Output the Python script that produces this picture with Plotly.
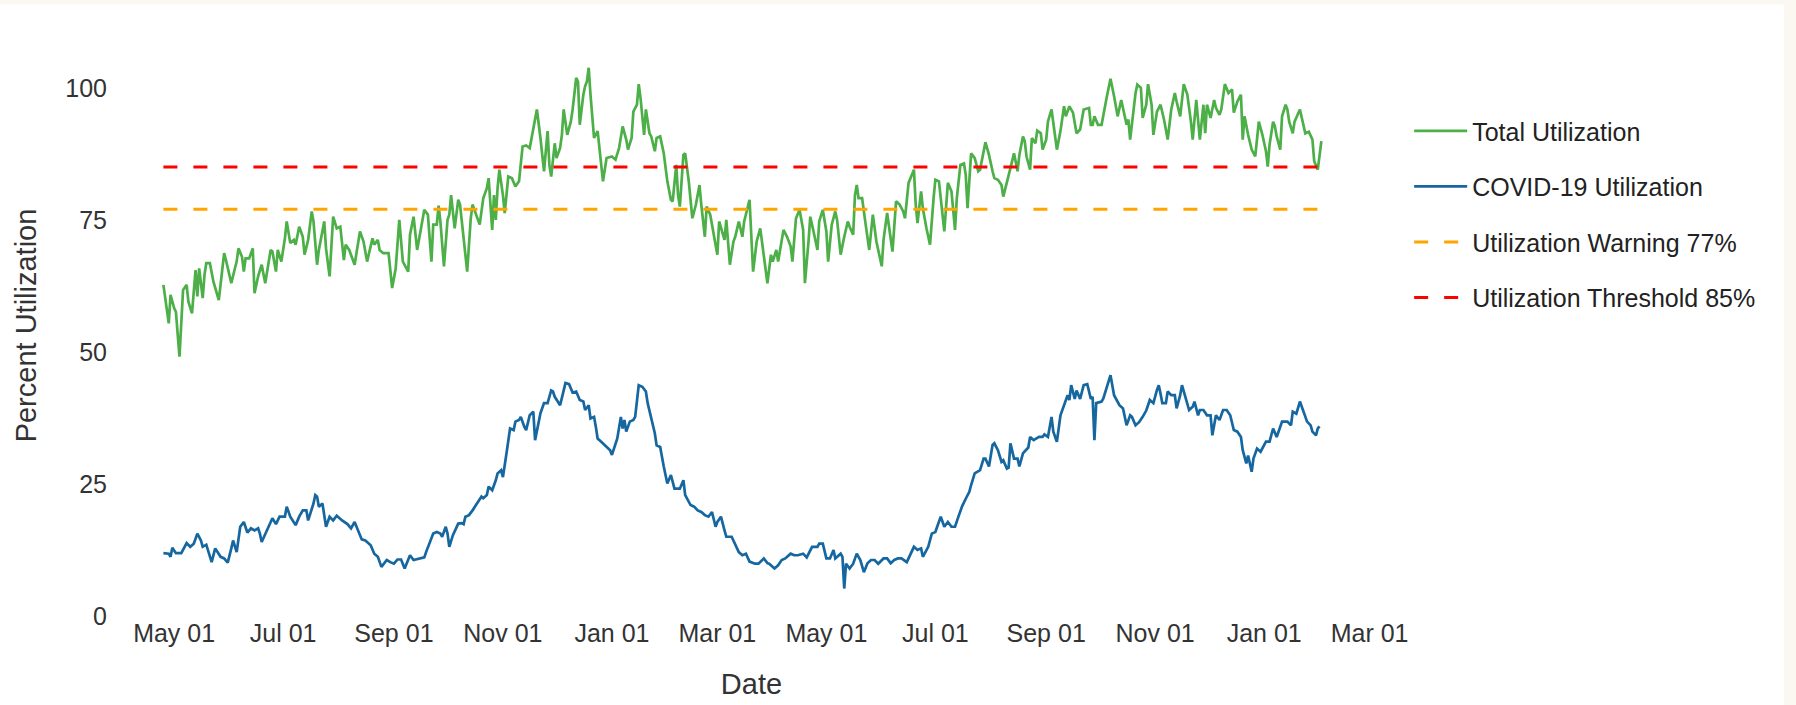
import pandas as pd
import plotly.graph_objects as go

# ---- data (day offsets are days since 2020-05-01) ----
START_DATE = "2020-05-01"

total_days = [
    -6, -3, -2, 0, 1, 3, 5, 7, 8, 10,
    12, 13, 14, 16, 17, 18, 20, 22, 25, 28,
    29, 32, 34, 35, 36, 38, 39, 40, 42, 44,
    45, 47, 49, 51, 54, 55, 57, 58, 60, 62,
    63, 65, 67, 68, 70, 72, 73, 75, 77, 78,
    80, 81, 84, 85, 87, 88, 89, 91, 93, 95,
    96, 98, 101, 104, 106, 108, 111, 112, 114, 115,
    117, 120, 122, 124, 126, 128, 131, 132, 134, 136,
    138, 140, 142, 144, 145, 147, 148, 149, 151, 153,
    154, 155, 157, 159, 160, 164, 166, 167, 169, 171,
    173, 175, 176, 178, 179, 180, 181, 182, 184, 185,
    187, 189, 191, 193, 195, 197, 199, 201, 203, 205,
    207, 209, 210, 211, 213, 214, 216, 217, 218, 220,
    222, 223, 225, 226, 227, 229, 230, 231, 232, 233,
    235, 237, 239, 240, 242, 245, 247, 249, 251, 253,
    254, 256, 257, 259, 260, 261, 263, 264, 266, 267,
    269, 270, 272, 274, 276, 278, 279, 281, 282, 283,
    285, 286, 288, 290, 292, 294, 295, 297, 298, 300,
    302, 304, 305, 306, 308, 309, 311, 313, 314, 316,
    318, 319, 322, 324, 326, 328, 330, 332, 334, 335,
    337, 338, 341, 343, 345, 346, 348, 350, 352, 353,
    355, 356, 358, 360, 361, 363, 365, 366, 368, 370,
    371, 373, 375, 377, 378, 380, 381, 382, 383, 385,
    387, 389, 391, 393, 396, 397, 399, 402, 404, 406,
    408, 409, 411, 412, 414, 415, 416, 418, 419, 421,
    423, 425, 426, 428, 429, 431, 433, 435, 437, 438,
    440, 442, 443, 444, 446, 448, 450, 451, 454, 456,
    458, 459, 461, 463, 464, 466, 468, 470, 472, 473,
    475, 476, 477, 479, 480, 482, 483, 485, 486, 488,
    489, 491, 492, 494, 496, 498, 499, 501, 503, 505,
    507, 509, 512, 513, 514, 515, 517, 519, 522, 524,
    526, 528, 530, 532, 533, 534, 535, 538, 539, 541,
    542, 544, 545, 547, 548, 550, 552, 554, 556, 558,
    560, 561, 563, 565, 567, 569, 570, 572, 574, 576,
    577, 578, 580, 582, 583, 585, 586, 588, 590, 592,
    593, 595, 597, 598, 599, 601, 603, 605, 607, 609,
    611, 612, 613, 615, 616, 617, 619, 620, 622, 623,
    624, 626, 627, 630, 632, 633, 635, 637, 638, 640,
    642,
]
total_pct = [
    62.7, 55.4, 60.8, 58.3, 57.6, 49.1, 61.7, 62.7, 59.5, 57.3,
    65.5, 60.5, 65.8, 60.2, 64.6, 66.8, 66.8, 63.3, 59.8, 68.7,
    67.4, 63.0, 65.8, 67.1, 69.6, 68.0, 65.2, 67.7, 67.7, 69.6,
    61.1, 64.3, 66.5, 63.0, 69.3, 69.0, 65.2, 69.3, 67.1, 71.5,
    74.7, 70.6, 71.2, 70.3, 73.7, 71.8, 68.4, 71.2, 76.6, 74.7,
    66.5, 69.3, 74.7, 69.6, 64.3, 70.9, 75.6, 73.4, 73.7, 67.4,
    70.3, 69.3, 66.5, 72.8, 70.9, 67.1, 71.5, 70.3, 71.2, 69.3,
    68.7, 68.7, 62.1, 65.8, 75.0, 67.1, 65.2, 72.2, 75.6, 69.3,
    73.4, 76.9, 76.0, 67.1, 74.1, 74.1, 77.7, 74.7, 66.2, 75.0,
    76.0, 79.7, 73.4, 78.8, 77.9, 65.2, 75.3, 77.9, 76.0, 74.1,
    79.1, 81.0, 82.9, 73.1, 79.7, 75.0, 81.0, 84.5, 79.7, 76.3,
    83.2, 82.9, 81.3, 82.3, 88.9, 89.1, 88.6, 92.1, 95.9, 90.5,
    84.2, 91.8, 85.4, 83.2, 89.5, 86.7, 88.6, 91.1, 95.9, 91.1,
    93.6, 95.9, 101.9, 101.2, 93.0, 98.7, 100.3, 101.2, 103.8, 98.7,
    90.5, 91.8, 85.4, 82.3, 86.7, 87.0, 86.4, 88.6, 92.7, 90.2,
    88.3, 90.5, 95.5, 96.8, 100.7, 98.1, 91.1, 95.9, 91.4, 90.8,
    88.0, 90.5, 90.8, 87.6, 82.3, 78.8, 78.5, 85.4, 79.7, 77.5,
    87.3, 87.6, 82.3, 75.3, 77.9, 81.6, 77.9, 71.8, 77.5, 76.0,
    72.2, 68.4, 74.7, 73.4, 71.2, 75.0, 66.5, 70.9, 71.8, 74.7,
    71.8, 74.7, 78.8, 65.2, 70.9, 73.4, 68.4, 63.0, 68.4, 67.1,
    69.3, 67.1, 73.1, 71.8, 70.0, 67.1, 75.3, 76.9, 73.1, 63.0,
    70.9, 75.6, 72.5, 69.3, 74.7, 76.9, 72.8, 67.1, 74.1, 76.6,
    75.0, 68.4, 71.8, 74.7, 73.7, 72.2, 79.7, 81.6, 79.1, 79.1,
    74.1, 69.3, 76.0, 70.9, 66.2, 71.2, 76.3, 69.0, 78.5, 77.9,
    76.6, 75.3, 82.0, 82.9, 84.5, 77.9, 74.4, 80.4, 77.2, 73.4,
    70.3, 79.1, 82.6, 82.3, 78.8, 72.8, 82.0, 80.4, 73.1, 79.1,
    85.4, 85.7, 83.5, 77.2, 87.6, 86.7, 84.2, 84.5, 89.7, 87.3,
    84.2, 82.9, 82.6, 81.6, 79.4, 81.9, 84.8, 87.6, 84.2, 87.3,
    90.8, 89.9, 87.0, 84.5, 90.5, 89.5, 91.9, 91.4, 88.3, 90.2,
    93.6, 95.9, 93.6, 88.3, 91.8, 96.5, 94.6, 96.5, 95.3, 91.4,
    92.1, 95.9, 96.2, 93.0, 93.0, 94.6, 93.0, 93.0, 98.4, 101.7,
    98.4, 94.6, 97.7, 94.3, 93.0, 94.0, 90.2, 99.0, 100.6, 100.0,
    94.3, 96.8, 100.7, 96.8, 91.1, 95.5, 96.8, 93.9, 90.2, 95.9,
    99.0, 97.4, 94.6, 100.7, 98.7, 93.6, 90.2, 97.7, 90.2, 96.8,
    91.4, 96.8, 94.3, 97.7, 96.2, 94.9, 95.9, 100.7, 99.0, 99.7,
    95.3, 97.4, 98.7, 90.2, 94.6, 91.1, 88.3, 87.0, 93.6, 91.1,
    88.0, 85.1, 89.2, 93.6, 92.7, 90.8, 88.3, 94.6, 96.8, 95.9,
    93.6, 91.4, 93.6, 95.9, 93.0, 91.4, 91.7, 90.2, 86.1, 84.5,
    89.9,
]

covid_days = [
    -6, -3, -2, -1, 1, 4, 7, 9, 11, 13,
    15, 16, 18, 21, 23, 26, 28, 30, 32, 33,
    35, 37, 39, 41, 43, 45, 47, 48, 49, 51,
    53, 55, 57, 59, 62, 63, 65, 68, 70, 72,
    74, 75, 78, 79, 80, 81, 83, 85, 87, 89,
    91, 94, 97, 99, 101, 103, 105, 107, 110, 112,
    114, 116, 119, 121, 123, 125, 127, 129, 132, 134,
    137, 140, 141, 143, 145, 147, 149, 150, 152, 153,
    154, 156, 158, 159, 161, 162, 163, 165, 167, 169,
    170, 172, 173, 175, 176, 178, 180, 181, 183, 184,
    186, 188, 190, 191, 193, 194, 196, 197, 199, 201,
    202, 203, 205, 207, 209, 211, 212, 213, 214, 216,
    219, 221, 223, 225, 227, 229, 230, 232, 233, 235,
    236, 237, 239, 241, 244, 245, 247, 248, 250, 251,
    252, 253, 255, 257, 258, 260, 262, 264, 265, 267,
    269, 270, 272, 274, 276, 278, 280, 282, 283, 285,
    286, 289, 291, 293, 295, 297, 299, 301, 303, 304,
    306, 308, 309, 312, 314, 316, 318, 320, 322, 325,
    327, 330, 332, 333, 336, 338, 340, 342, 345, 347,
    349, 352, 354, 355, 357, 360, 361, 363, 365, 367,
    369, 370, 373, 374, 375, 376, 378, 380, 382, 384,
    386, 388, 390, 392, 394, 397, 399, 401, 403, 405,
    407, 410, 412, 414, 416, 418, 419, 422, 424, 426,
    427, 429, 431, 433, 435, 437, 439, 441, 443, 445,
    446, 448, 451, 453, 454, 456, 458, 459, 461, 463,
    464, 466, 467, 468, 470, 472, 473, 475, 478, 479,
    481, 484, 486, 487, 489, 491, 492, 494, 496, 498,
    500, 501, 502, 504, 505, 507, 509, 511, 513, 514,
    515, 516, 519, 520, 522, 524, 526, 528, 529, 531,
    533, 535, 536, 538, 540, 542, 544, 546, 548, 550,
    551, 552, 553, 555, 556, 558, 560, 561, 563, 564,
    566, 568, 570, 571, 573, 574, 576, 578, 580, 581,
    583, 585, 587, 589, 591, 593, 595, 597, 598, 600,
    601, 603, 604, 606, 608, 611, 613, 615, 617, 620,
    623, 625, 626, 628, 630, 632, 634, 636, 637, 639,
    640, 641,
]
covid_pct = [
    11.9, 11.8, 11.2, 12.9, 11.9, 11.9, 13.8, 13.1, 13.7, 15.6,
    14.3, 13.1, 13.5, 10.2, 12.8, 11.2, 10.9, 10.1, 12.8, 14.3,
    12.1, 16.9, 17.8, 15.8, 16.6, 16.2, 16.6, 15.6, 14.0, 15.6,
    17.2, 18.5, 17.4, 18.8, 18.8, 20.7, 18.8, 17.2, 18.8, 20.0,
    20.0, 18.1, 21.3, 22.9, 22.6, 20.7, 21.3, 16.9, 18.8, 18.1,
    19.0, 18.1, 17.4, 16.6, 17.8, 16.2, 14.5, 14.3, 13.4, 11.8,
    11.2, 9.3, 10.6, 10.2, 9.9, 10.7, 10.7, 9.0, 11.5, 10.6,
    10.9, 11.1, 12.1, 14.0, 15.6, 15.9, 15.6, 15.0, 16.9, 15.6,
    13.1, 15.3, 16.9, 17.5, 17.6, 17.4, 18.8, 19.1, 20.0, 21.0,
    21.6, 22.6, 22.3, 22.9, 24.5, 23.8, 25.7, 27.0, 27.6, 26.3,
    30.8, 35.5, 35.2, 36.8, 37.1, 37.7, 35.8, 35.2, 38.0, 38.7,
    33.3, 35.2, 38.4, 40.3, 40.3, 42.7, 42.5, 41.5, 40.9, 39.9,
    44.1, 43.9, 42.3, 42.5, 40.9, 40.6, 39.0, 39.9, 37.4, 37.7,
    35.8, 33.6, 33.0, 32.3, 31.4, 30.5, 32.3, 33.6, 37.7, 35.5,
    37.1, 34.9, 36.8, 37.1, 37.7, 43.7, 43.4, 42.5, 40.3, 37.4,
    34.6, 32.3, 32.0, 28.3, 25.1, 26.7, 24.1, 24.1, 24.1, 25.7,
    22.9, 21.0, 20.7, 20.0, 19.7, 19.1, 18.8, 19.7, 16.9, 17.8,
    18.8, 16.2, 15.0, 15.0, 13.4, 12.1, 11.5, 11.8, 10.3, 9.9,
    9.9, 10.9, 10.0, 9.9, 9.0, 9.6, 10.6, 10.9, 11.8, 11.5,
    11.5, 11.8, 11.1, 11.8, 13.1, 13.1, 13.7, 13.7, 10.9, 10.9,
    12.5, 10.9, 11.8, 11.2, 5.2, 9.9, 9.0, 9.9, 11.8, 10.6,
    8.3, 10.0, 10.6, 10.6, 9.9, 10.9, 10.9, 10.0, 10.6, 10.9,
    10.9, 10.2, 11.5, 13.1, 12.5, 12.8, 11.2, 13.1, 15.6, 15.9,
    16.9, 18.8, 16.9, 17.8, 16.9, 16.9, 18.9, 20.8, 22.2, 23.5,
    24.8, 27.0, 27.6, 29.8, 29.8, 28.3, 32.4, 32.7, 31.4, 29.2,
    29.5, 27.9, 28.1, 32.7, 29.8, 29.8, 28.3, 30.8, 31.9, 33.9,
    33.3, 33.9, 33.9, 34.4, 33.9, 37.7, 34.9, 33.0, 38.0, 39.9,
    41.8, 40.9, 43.7, 41.1, 42.7, 41.1, 43.7, 43.9, 41.1, 41.5,
    33.3, 40.3, 40.6, 41.2, 43.4, 45.6, 41.8, 40.6, 39.9, 39.3,
    36.1, 38.0, 37.7, 36.1, 36.7, 37.7, 38.9, 40.9, 40.3, 42.8,
    43.7, 42.1, 40.3, 40.3, 42.5, 41.8, 41.8, 39.3, 41.8, 43.7,
    41.2, 39.0, 39.6, 40.6, 38.0, 39.0, 39.0, 38.0, 38.0, 34.2,
    38.0, 37.1, 39.0, 39.0, 38.0, 35.2, 34.9, 33.9, 31.4, 28.9,
    30.4, 27.3, 29.8, 31.7, 31.1, 33.0, 33.0, 35.5, 33.9, 36.8,
    36.8, 36.1, 38.7, 38.3, 40.6, 38.7, 36.8, 36.1, 34.9, 34.2,
    35.5, 35.9,
]

warning_level = 77
threshold_level = 85

series_names = ["Total Utilization", "COVID-19 Utilization",
                "Utilization Warning 77%", "Utilization Threshold 85%"]
y_ticks = [0, 25, 50, 75, 100]

assert len(total_days) == len(total_pct)
assert len(covid_days) == len(covid_pct)


def to_dates(days):
    start = pd.Timestamp(START_DATE)
    return [(start + pd.Timedelta(days=d)).strftime("%Y-%m-%d") for d in days]


total_dates = to_dates(total_days)
covid_dates = to_dates(covid_days)
span = [total_dates[0], total_dates[-1]]

fig = go.Figure()
fig.add_trace(go.Scatter(x=total_dates, y=total_pct, mode="lines", name=series_names[0],
                         legendgroup="a", line=dict(color="#4caf48", width=2.7)))
fig.add_trace(go.Scatter(x=covid_dates, y=covid_pct, mode="lines", name=series_names[1],
                         legendgroup="b", line=dict(color="#1667a0", width=2.7)))
fig.add_trace(go.Scatter(x=span, y=[warning_level] * 2, mode="lines", name=series_names[2],
                         legendgroup="c", line=dict(color="#ffa500", width=3, dash="14px,16px")))
fig.add_trace(go.Scatter(x=span, y=[threshold_level] * 2, mode="lines", name=series_names[3],
                         legendgroup="d", line=dict(color="#ff0000", width=3, dash="14px,16px")))

# faint cream page edges seen around the captured chart
CREAM = "#fbf8f1"
edge_shapes = [
    dict(type="rect", xref="paper", yref="paper", x0=1.3023, x1=1.32, y0=-0.2, y1=1.07,
         fillcolor=CREAM, line=dict(width=0), layer="below"),
    dict(type="rect", xref="paper", yref="paper", x0=-0.09, x1=1.32, y0=1.053, y1=1.07,
         fillcolor=CREAM, line=dict(width=0), layer="below"),
]

FONT = "Arial, 'Liberation Sans', Helvetica, sans-serif"
fig.update_layout(
    width=1796, height=705,
    margin=dict(l=108, r=401, t=35, b=89),
    paper_bgcolor="white", plot_bgcolor="white",
    font=dict(family=FONT, size=25, color="#333333"),
    showlegend=True,
    shapes=edge_shapes,
    legend=dict(x=1.011, y=0.874, xanchor="left", yanchor="top",
                font=dict(size=25, color="#222222"),
                tracegroupgap=20, itemwidth=53, traceorder="grouped"),
    xaxis=dict(range=["2020-03-25", "2022-03-15 05:00"], tick0="2020-05-01", dtick="M2",
               tickformat="%b %d", showgrid=False, zeroline=False, showline=False,
               ticks="", title=dict(text="Date", font=dict(size=29), standoff=27)),
    yaxis=dict(range=[0, 110], tickvals=y_ticks, showgrid=False, zeroline=False,
               showline=False, ticks="",
               title=dict(text="Percent Utilization", font=dict(size=29), standoff=20)),
)

fig.write_html("out.html", config={"displayModeBar": False},
               post_script="document.body.style.margin='0';")
